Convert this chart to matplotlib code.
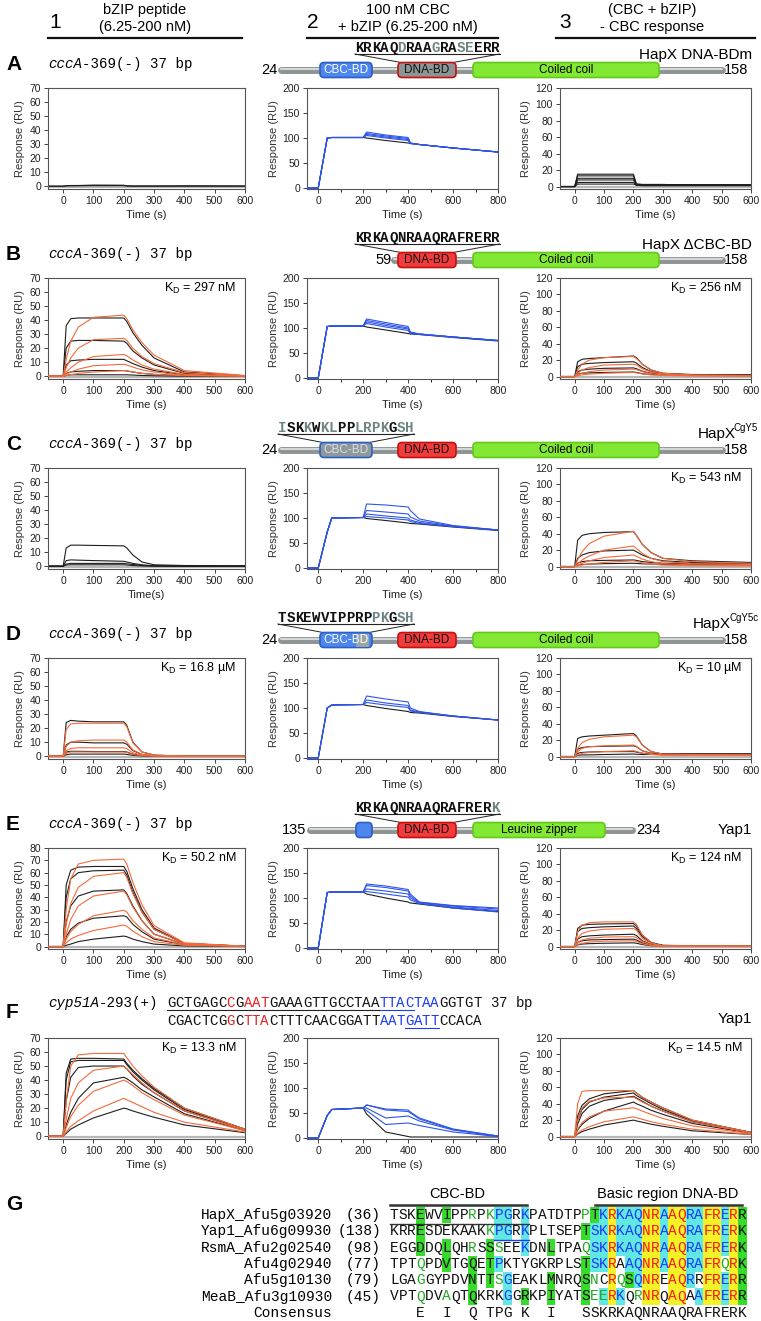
import matplotlib
matplotlib.use("Agg")
import matplotlib.pyplot as plt
from matplotlib.patches import FancyBboxPatch, Rectangle

plt.rcParams['font.family'] = ['Liberation Sans', 'DejaVu Sans']
plt.rcParams['mathtext.default'] = 'regular'

W, H = 761, 1321
MONO = 'Liberation Mono'

t_pep = [-50, 0, 10, 25, 50, 100, 200, 210, 230, 260, 300, 400, 600]
t_cbc = [-50, 0, 40, 60, 200, 215, 300, 400, 410, 450, 600, 800]

# ---- row A : HapX DNA-BDm ----
a1_black = [[0, 0, 0.4, 0.5, 0.5, 0.8, 0.7, 0.3, 0.2, 0.2, 0.2, 0.3, 0.2],
            [0, 0, 0.2, 0.3, 0.3, 0.4, 0.4, 0.1, 0, 0, 0, 0, 0]]
a1_orange = []
a2_blue = [[0, 0, 100, 101, 101, 112, 106, 101, 90, 87, 80, 72],
           [0, 0, 100, 101, 101, 109, 104, 99, 90, 87, 80, 72],
           [0, 0, 100, 101, 101, 107, 102, 97, 89, 87, 80, 72],
           [0, 0, 100, 101, 101, 105, 100, 95, 89, 87, 80, 72]]
a2_black = [0, 0, 100, 101, 101, 100, 95, 90, 89, 87, 80, 72]
a3_black = [[0, 0, 15, 15, 15, 15, 15, 3, 2.5, 2.5, 2.5, 2, 2],
            [0, 0, 13, 13, 13, 13, 13, 3, 2.5, 2.5, 2.5, 2, 2],
            [0, 0, 10, 10, 10, 10, 10, 2.5, 2, 2, 2, 2, 2],
            [0, 0, 8, 8, 8, 8, 8, 2, 2, 2, 2, 1.5, 1.5],
            [0, 0, 5, 5, 5, 5, 5, 2, 1.5, 1.5, 1.5, 1.5, 1.5],
            [0, 0, 3, 3, 3, 3, 3, 1.5, 1, 1, 1, 1, 1]]
a3_orange = []

# ---- row B : HapX dCBC-BD ----
b1_black = [[0, 0, 36, 41, 41.5, 41.5, 41.5, 39, 31, 22, 13, 3, 0.3],
            [0, 0, 20, 25, 25.5, 25.5, 25, 23.5, 18, 13, 8, 2, 0.2],
            [0, 0, 8, 11, 11.5, 12, 12, 11, 9, 6.5, 4, 1, 0],
            [0, 0, 2, 3, 3.5, 4, 4, 3.7, 3, 2, 1.3, 0.3, 0],
            [0, 0, 0.5, 1, 1, 1, 1, 1, 0.8, 0.5, 0.3, 0, 0]]
b1_orange = [[0, 0, 12, 25, 35, 42, 43.5, 41, 33, 24, 15, 4, 0.5],
             [0, 0, 6, 13, 20, 26, 27, 25.5, 20, 14, 9, 2.5, 0.3],
             [0, 0, 3, 6, 10, 14, 15.5, 14.5, 11.5, 8, 5, 1.3, 0.1],
             [0, 0, 1.5, 3, 5, 7.5, 8.5, 8, 6.5, 4.5, 3, 0.7, 0],
             [0, 0, 0.5, 1, 2, 3, 4, 3.8, 3, 2, 1.3, 0.3, 0]]
b2_blue = [[0, 0, 103, 104, 104, 118, 111, 103, 92, 88, 82, 75],
           [0, 0, 103, 104, 104, 115, 108, 100, 91, 88, 82, 75],
           [0, 0, 103, 104, 104, 112, 105, 98, 90, 88, 82, 75],
           [0, 0, 103, 104, 104, 109, 102, 95, 89, 87, 82, 75]]
b2_black = [0, 0, 103, 104, 104, 102, 96, 89, 88, 87, 81, 74]
b3_black = [[0, 0, 18, 21, 22, 23, 25, 23, 15, 8, 4, 2.5, 2],
            [0, 0, 12, 15, 16, 17, 18, 16.5, 11, 6, 3.5, 2, 2],
            [0, 0, 6, 8, 9, 10, 10.5, 9.5, 6.5, 4, 2.5, 2, 2],
            [0, 0, 3, 4, 4.5, 5, 5.5, 5, 3.5, 2.5, 2, 2, 2]]
b3_orange = [[0, 0, 8, 15, 20, 23, 24.5, 22, 15, 8, 4, 2, 1.5],
             [0, 0, 4, 8, 11, 14, 15, 14, 9.5, 5.5, 3, 1.5, 1],
             [0, 0, 2, 4, 6, 8, 9, 8.5, 6, 3.5, 2, 1, 0.8],
             [0, 0, 1, 2, 3, 4, 5, 4.5, 3.2, 2, 1.3, 0.8, 0.5]]

# ---- row C : HapX CgY5 ----
c1_black = [[0, 0, 13, 15, 15, 14.8, 14.5, 13, 8, 3, 1, 0.5, 0.3],
            [0, 0, 4, 4.5, 4.3, 4, 3.5, 3, 2, 1, 0.3, 0, 0],
            [0, 0, 1.5, 2, 2, 2, 2, 1.7, 1.2, 0.5, 0.2, 0, 0],
            [0, 0, 0.8, 1, 1, 1, 1, 0.8, 0.5, 0.2, 0, 0, 0]]
c1_orange = []
c2_blue = [[0, 0, 72, 100, 101, 128, 126, 122, 115, 98, 85, 76],
           [0, 0, 72, 100, 101, 115, 112, 108, 102, 94, 84, 76],
           [0, 0, 72, 100, 101, 108, 104, 100, 96, 91, 83, 76],
           [0, 0, 72, 100, 101, 103, 100, 96, 93, 89, 83, 76]]
c2_black = [0, 0, 72, 100, 101, 99, 95, 90, 89, 88, 82, 75]
c3_black = [[0, 0, 32, 38, 40, 41.5, 42.5, 38, 27, 17, 10, 7, 5],
            [0, 0, 10, 14, 17, 19, 20, 18, 14, 10, 7, 5, 4],
            [0, 0, 4, 6, 7, 7.5, 8, 7.5, 6, 5, 4, 3.5, 3],
            [0, 0, 1.5, 2.5, 3, 3.5, 4, 3.8, 3.3, 3, 2.5, 2.5, 2]]
c3_orange = [[0, 0, 8, 18, 28, 37, 43, 38, 27, 17, 10, 6, 4],
             [0, 0, 3, 8, 13, 20, 25, 22, 16, 10, 6, 3.5, 2.5],
             [0, 0, 1.5, 4, 7, 11, 14, 12.5, 9, 6, 3.5, 2, 1.5],
             [0, 0, 0.7, 2, 3, 5, 7, 6.3, 4.5, 3, 1.8, 1, 0.7]]

# ---- row D : HapX CgY5c ----
d1_black = [[0, 0, 24, 25.5, 25, 24.5, 24.5, 22, 10, 3, 0.8, 0, 0],
            [0, 0, 8, 10, 10, 9.5, 9.5, 8.5, 4, 1.2, 0.3, 0, 0],
            [0, 0, 3, 3.5, 3.5, 3.3, 3.3, 3, 1.5, 0.5, 0.1, 0, 0],
            [0, 0, 1, 1.5, 1.5, 1.5, 1.5, 1.3, 0.6, 0.2, 0, 0, 0]]
d1_orange = [[0, 0, 19, 23, 23.5, 23.5, 23.5, 21, 9.5, 3, 0.8, 0, 0],
             [0, 0, 7, 10, 11, 11.5, 11.5, 10, 4.5, 1.3, 0.3, 0, 0],
             [0, 0, 4, 5.5, 6, 6, 6, 5.4, 2.4, 0.7, 0.2, 0, 0],
             [0, 0, 2, 3, 3, 3, 3, 2.7, 1.2, 0.4, 0, 0, 0]]
d2_blue = [[0, 0, 100, 106, 107, 124, 118, 112, 100, 93, 84, 76],
           [0, 0, 100, 106, 107, 116, 110, 105, 96, 92, 84, 76],
           [0, 0, 100, 106, 107, 111, 106, 101, 94, 91, 84, 76]]
d2_black = [0, 0, 100, 106, 107, 105, 99, 93, 91, 90, 83, 76]
d3_black = [[0, 0, 22, 24, 25, 26, 28, 25, 14, 6, 3, 3, 3],
            [0, 0, 9, 11, 12, 12.5, 13, 12, 7, 4, 3, 3, 3],
            [0, 0, 4, 5, 5.5, 6, 6, 5.5, 4, 3, 3, 3, 3],
            [0, 0, 1.5, 2, 2, 2.5, 3, 2.8, 2.5, 2.5, 2.5, 2.5, 2.5]]
d3_orange = [[0, 0, 10, 17, 21, 24, 26, 24, 14, 6, 3, 2.5, 2],
             [0, 0, 6, 10, 12, 13, 14, 12.5, 7, 3.5, 2, 2, 2],
             [0, 0, 2, 4, 5, 6, 7, 6.3, 4, 2.5, 1.5, 1.5, 1.5]]

# ---- row E : Yap1 / cccA ----
e1_black = [[0, 0, 50, 62, 64.5, 65, 65, 61, 47, 30, 15, 2.5, 0.2],
            [0, 0, 40, 55, 60, 61.5, 62, 58, 44, 28, 14, 2.5, 0.2],
            [0, 0, 20, 33, 41, 45, 46, 43, 33, 21, 10, 2, 0.2],
            [0, 0, 8, 14, 19, 23, 25, 24, 18, 12, 6, 1.5, 0.1],
            [0, 0, 1, 2, 4, 6, 8.5, 8, 6, 4, 2, 0.5, 0]]
e1_orange = [[0, 0, 30, 55, 67, 70, 71, 67, 52, 34, 17, 3, 0.3],
             [0, 0, 18, 35, 48, 57, 60, 56, 43, 28, 14, 2.5, 0.2],
             [0, 0, 10, 22, 33, 41, 45, 42, 32, 21, 10, 2, 0.2],
             [0, 0, 6, 12, 18, 25, 29.5, 28, 21, 14, 7, 1.5, 0.1],
             [0, 0, 3, 6, 9, 13, 17.5, 16.5, 12.5, 8, 4, 1, 0]]
e2_blue = [[0, 0, 111, 112, 112, 128, 124, 117, 108, 92, 85, 80],
           [0, 0, 111, 112, 112, 125, 121, 114, 104, 91, 84, 78],
           [0, 0, 111, 112, 112, 118, 114, 108, 100, 90, 82, 75],
           [0, 0, 111, 112, 112, 113, 108, 102, 96, 89, 80, 72]]
e2_black = [0, 0, 111, 112, 112, 108, 100, 92, 90, 88, 80, 73]
e3_black = [[0, 0, 22, 26, 27, 27.5, 28, 25, 14, 5, 1.5, 1, 1],
            [0, 0, 18, 22, 23, 24, 25, 22, 12, 4, 1.3, 1, 1],
            [0, 0, 9, 12, 13, 14, 15, 13.5, 7, 2.5, 1, 1, 1],
            [0, 0, 5, 7, 8, 8.5, 9, 8, 4.5, 1.5, 1, 1, 1],
            [0, 0, 2, 3, 3.5, 4, 4.5, 4, 2.5, 1, 1, 1, 1]]
e3_orange = [[0, 0, 18, 26, 29, 30, 30, 27, 14, 4.5, 1, 0.5, 0.5],
             [0, 0, 10, 16, 19, 21, 22, 20, 10, 3.5, 1, 0.5, 0.5],
             [0, 0, 5, 8, 10, 11.5, 12, 11, 6, 2, 0.7, 0.5, 0.5],
             [0, 0, 2.5, 4, 5.5, 6.5, 7, 6.3, 3.5, 1.2, 0.5, 0.5, 0.5]]

# ---- row F : Yap1 / cyp51A ----
f1_black = [[0, 0, 45, 55, 55.5, 55.5, 55, 52, 47, 41, 34, 20, 5],
            [0, 0, 40, 53, 54, 54, 54, 51, 46, 40, 33, 19, 5],
            [0, 0, 25, 42, 49, 50, 50, 48, 43, 37, 31, 18, 4.5],
            [0, 0, 8, 17, 27, 38, 42, 41, 38, 33, 28, 16, 4],
            [0, 0, 2, 5, 8, 13, 20, 19.5, 18, 16, 13.5, 8, 2.5]]
f1_orange = [[0, 0, 25, 50, 58, 59, 59, 56, 50, 43, 35, 20, 5],
             [0, 0, 12, 27, 38, 47, 50, 48, 44, 38, 31, 18, 4.5],
             [0, 0, 6, 14, 22, 32, 40, 39, 36, 31, 26, 15, 4],
             [0, 0, 3, 7, 11, 18, 27, 26, 24, 21, 17, 10, 3]]
f2_blue = [[0, 0, 45, 57, 60, 66, 58, 56, 52, 40, 18, 4],
           [0, 0, 45, 57, 60, 66, 56, 53, 50, 38, 17, 4],
           [0, 0, 45, 57, 60, 60, 40, 44, 42, 34, 16, 3],
           [0, 0, 45, 57, 60, 55, 27, 30, 29, 25, 12, 3]]
f2_black = [0, 0, 45, 57, 60, 48, 12, 3, 2, 2, 2, 2]
f3_black = [[0, 0, 25, 38, 46, 52, 56, 53, 48, 42, 35, 20, 5],
            [0, 0, 20, 33, 42, 48, 53, 50, 46, 40, 33, 19, 5],
            [0, 0, 15, 28, 37, 44, 49, 47, 43, 37, 31, 18, 5],
            [0, 0, 8, 15, 22, 31, 42, 40, 37, 32, 27, 16, 4],
            [0, 0, 3, 6, 9, 14, 20, 19, 17.5, 15, 12.5, 7, 2.5]]
f3_orange = [[0, 0, 40, 55, 56, 56, 56, 53, 48, 42, 35, 20, 5],
             [0, 0, 20, 35, 43, 47, 48, 46, 42, 37, 31, 18, 4.5],
             [0, 0, 9, 17, 24, 31, 35, 34, 31, 27, 22, 13, 3.5],
             [0, 0, 4, 8, 12, 18, 24, 23, 21, 18, 15, 9, 2.5]]

kd_col1 = [None, "297 nM", None, "16.8 µM", "50.2 nM", "13.3 nM"]
kd_col3 = [None, "256 nM", "543 nM", "10 µM", "124 nM", "14.5 nM"]
ymax_col1 = [70, 70, 70, 70, 80, 70]
xlab_col1 = ["Time (s)", "Time (s)", "Time(s)", "Time (s)", "Time (s)", "Time (s)"]

col1_data = [(a1_black, a1_orange), (b1_black, b1_orange), (c1_black, c1_orange),
             (d1_black, d1_orange), (e1_black, e1_orange), (f1_black, f1_orange)]
col2_data = [(a2_blue, a2_black), (b2_blue, b2_black), (c2_blue, c2_black),
             (d2_blue, d2_black), (e2_blue, e2_black), (f2_blue, f2_black)]
col3_data = [(a3_black, a3_orange), (b3_black, b3_orange), (c3_black, c3_orange),
             (d3_black, d3_orange), (e3_black, e3_orange), (f3_black, f3_orange)]

# alignment (panel G)
aln_names = ["HapX_Afu5g03920", "Yap1_Afu6g09930", "RsmA_Afu2g02540",
             "Afu4g02940", "Afu5g10130", "MeaB_Afu3g10930"]
aln_start = ["(36)", "(138)", "(98)", "(77)", "(79)", "(45)"]
aln_seqs = ["TSKEWVIPPRPKPGRKPATDTPPTKRKAQNRAAQRAFRERR",
            "KRRESDEKAAKKPGRKPLTSEPTSKRKAQNRAAQRAFRERK",
            "EGGDDQLQHRSSSEEKDNLTPAQSKRKAQNRAAQRAFRERK",
            "TPTQPDVTGQETPKTYGKRPLSTSKRAAQNRAAQRAFRQRK",
            "LGAGGYPDVNTTSGEAKLMNRQSNCRQSQNREAQRRFRERR",
            "VPTQDVAQTQKRKGGRKPIYATSEERKQRNRQAQAAFRERR"]
aln_codes = ["...g..g..G.Gcc.c......Gg" + "cycccyycyyccyycyg",
             "...g.......Gcc.c......gc" + "cycccyycyyccyycyg",
             "...g..g..G.gG..c..g...Gc" + "cycccyycyyccyycyg",
             "...G..g..g.gc.........gc" + "cy.ccyycyyccyyGyg",
             "...G.....g.gGc....g...gG" + ".yGgcyy.yyc.yycyg",
             "...G..G..g...c.g..g...gG" + "Cyc.Gyy.yy.cyycyg"]
aln_consensus = "   E  I  Q TPG K  I   SSKRKAQNRAAQRAFRERK"

# ---- figure ----
fig = plt.figure(figsize=(W / 100, H / 100), dpi=100)
ov = fig.add_axes([0, 0, 1, 1])
ov.set_xlim(0, W)
ov.set_ylim(H, 0)
ov.axis('off')

row_top = [88, 278, 468, 658, 848, 1038]
col_x = [(48, 245), (307, 498), (560, 751)]
AX_H = 101

BLACK = '#1e1e1e'
ORANGE = '#f36a3b'
BLUE = '#2f55e8'


def px_axes(x0, x1, y0, y1):
    return fig.add_axes([x0 / W, 1 - y1 / H, (x1 - x0) / W, (y1 - y0) / H])


def style(ax, xmax, ymax, ystep, xstep, xlabel):
    ax.set_xlim(-50, xmax)
    ax.set_xticks(range(0, xmax + 1, xstep))
    ax.set_yticks(range(0, ymax + 1, ystep))
    if xmax == 800:
        ax.set_xticks(range(100, 800, 200), minor=True)
    ax.tick_params(labelsize=7.5, length=3, width=0.6, pad=2, colors='#222')
    ax.tick_params(which='minor', length=2, width=0.6)
    for s in ax.spines.values():
        s.set_color('#555')
        s.set_linewidth(0.8)
    ax.set_ylabel("Response (RU)", fontsize=8, labelpad=3, color='#333')
    ax.set_xlabel(xlabel, fontsize=8, labelpad=3, color='#222')


for r in range(6):
    y0 = row_top[r]
    y1 = y0 + AX_H
    # column 1
    ax = px_axes(*col_x[0], y0, y1)
    blk, org = col1_data[r]
    ax.axhline(-0.6, color='#b8b8b8', lw=1.6, zorder=1)
    for c in blk:
        ax.plot(t_pep, c, color=BLACK, lw=0.8, zorder=2)
    for c in org:
        ax.plot(t_pep, c, color=ORANGE, lw=0.8, zorder=3)
    ax.set_ylim(-2, ymax_col1[r])
    style(ax, 600, ymax_col1[r], 10, 100, xlab_col1[r])
    if kd_col1[r]:
        ax.text(0.955, 0.9, "K$_D$ = " + kd_col1[r], transform=ax.transAxes,
                ha='right', va='center', fontsize=9)
    # column 2
    ax = px_axes(*col_x[1], y0, y1)
    blue, blk2 = col2_data[r]
    ax.plot(t_cbc, blk2, color=BLACK, lw=0.8, zorder=2)
    for c in blue:
        ax.plot(t_cbc, c, color=BLUE, lw=0.8, zorder=3)
    ax.set_ylim(-2, 200)
    style(ax, 800, 200, 50, 200, "Time (s)")
    # column 3
    ax = px_axes(*col_x[2], y0, y1)
    blk, org = col3_data[r]
    ax.axhline(-1, color='#b8b8b8', lw=1.6, zorder=1)
    for c in blk:
        ax.plot(t_pep, c, color=BLACK, lw=0.8, zorder=2)
    for c in org:
        ax.plot(t_pep, c, color=ORANGE, lw=0.8, zorder=3)
    ax.set_ylim(-3, 120)
    style(ax, 600, 120, 20, 100, "Time (s)")
    if kd_col3[r]:
        ax.text(0.955, 0.9, "K$_D$ = " + kd_col3[r], transform=ax.transAxes,
                ha='right', va='center', fontsize=9)

# ---- column headers ----
hdr = [(55, 145, 48, 242, "1", "bZIP peptide", "(6.25-200 nM)"),
       (313, 408, 307, 498, "2", "100 nM CBC", "+ bZIP (6.25-200 nM)"),
       (565, 652, 556, 755, "3", "(CBC + bZIP)", "- CBC response")]
for xn, xc, l0, l1, num, t1, t2 in hdr:
    ov.text(xn, 22, num, fontsize=15, ha='center', va='center')
    ov.text(xc, 10, t1, fontsize=10.5, ha='center', va='center')
    ov.text(xc, 27, t2, fontsize=10.5, ha='center', va='center')
    ov.plot([l0, l1], [38, 38], color='#111', lw=1.6)

# ---- panel letters and DNA labels ----
STEP = 8.5
MSIZE = STEP / 0.6 * 0.72
for r, letter in enumerate("ABCDE"):
    yb = row_top[r] - 18
    ov.text(6, yb - 6, letter, fontsize=15, weight='bold', va='center')
    ov.text(48, yb - 6, "cccA", fontsize=MSIZE, family=MONO, style='italic', va='center')
    ov.text(48 + 4 * STEP, yb - 6, "-369(-) 37 bp", fontsize=MSIZE, family=MONO, va='center')
ov.text(6, 1013, "F", fontsize=15, weight='bold', va='center')
ov.text(6, 1205, "G", fontsize=15, weight='bold', va='center')


def mono_chars(x0, y, s, colors, step, size, weight='normal'):
    for i, ch in enumerate(s):
        if ch != ' ':
            ov.text(x0 + step * (i + 0.5), y, ch, color=colors[i], fontsize=size,
                    family=MONO, weight=weight, ha='center', va='center')


# ---- domain diagrams ----
def box(x0, x1, yc, face, edge, label=None, tcol='k'):
    p = FancyBboxPatch((x0, yc - 7.5), x1 - x0, 15, boxstyle="round,pad=0,rounding_size=4",
                       fc=face, ec=edge, lw=1.2, zorder=3)
    ov.add_patch(p)
    if label:
        ov.text((x0 + x1) / 2, yc, label, fontsize=8.5, color=tcol, ha='center', va='center', zorder=4)


def bar(x0, x1, yc):
    ov.plot([x0, x1], [yc, yc], color='#8e9494', lw=5, solid_capstyle='round', zorder=2)
    ov.plot([x0, x1], [yc - 1, yc - 1], color='#d4d8d8', lw=1.5, solid_capstyle='round', zorder=2)


def peptide(x0, yc, seq, cols, bx0, bx1):
    ys = yc - 22
    tone = {'k': '#111', 'g': '#6f8585'}
    mono_chars(x0, ys, seq, [tone[c] for c in cols], STEP, MSIZE, weight='bold')
    x1 = x0 + STEP * len(seq)
    ov.plot([x0, x1], [ys + 6, ys + 6], color='#222', lw=0.8)
    ov.plot([x0, bx0 + 3], [ys + 6, yc - 7.5], color='#222', lw=0.7)
    ov.plot([x1, bx1 - 3], [ys + 6, yc - 7.5], color='#222', lw=0.7)


def protein_name(yc, base, sup=None):
    if sup is None:
        ov.text(752, yc, base, fontsize=11, ha='right', va='center')
    else:
        xs = 752 - 4.4 * len(sup)
        ov.text(xs + 1, yc, base, fontsize=11, ha='right', va='center')
        ov.text(xs - 0.5, yc - 6, sup, fontsize=7, ha='left', va='center')


CBC_F, CBC_E = '#4d86ec', '#2d5fc4'
DNA_F, DNA_E = '#f23c3c', '#c41010'
CC_F, CC_E = '#82e834', '#64c81a'

# A
yc = row_top[0] - 18
bar(281, 722, yc)
ov.text(277, yc, "24", fontsize=10.5, ha='right', va='center')
ov.text(724, yc, "158", fontsize=10.5, ha='left', va='center')
box(320, 372, yc, CBC_F, CBC_E, "CBC-BD", 'white')
box(398, 456, yc, '#8e9494', DNA_E, "DNA-BD", '#111')
box(473, 659, yc, CC_F, CC_E, "Coiled coil")
peptide(355, yc, "KRKAQDRAAGRASEERR", "kkkkkgkkkgkkggkkk", 398, 456)
protein_name(yc - 15, "HapX DNA-BDm")

# B
yc = row_top[1] - 18
bar(394, 722, yc)
ov.text(392, yc, "59", fontsize=10.5, ha='right', va='center')
ov.text(724, yc, "158", fontsize=10.5, ha='left', va='center')
box(398, 456, yc, DNA_F, DNA_E, "DNA-BD", '#111')
box(473, 659, yc, CC_F, CC_E, "Coiled coil")
peptide(355, yc, "KRKAQNRAAQRAFRERR", "k" * 17, 398, 456)
protein_name(yc - 15, "HapX ΔCBC-BD")

# C
yc = row_top[2] - 18
bar(281, 722, yc)
ov.text(277, yc, "24", fontsize=10.5, ha='right', va='center')
ov.text(724, yc, "158", fontsize=10.5, ha='left', va='center')
box(320, 372, yc, '#8e9a9a', CBC_E, "CBC-BD", '#dde')
box(398, 456, yc, DNA_F, DNA_E, "DNA-BD", '#111')
box(473, 659, yc, CC_F, CC_E, "Coiled coil")
peptide(278, yc, "ISKKWKLPPLRPKGSH", "gkkgkggkkggggkgg", 320, 372)
protein_name(yc - 16, "HapX", "CgY5")

# D
yc = row_top[3] - 18
bar(281, 722, yc)
ov.text(277, yc, "24", fontsize=10.5, ha='right', va='center')
ov.text(724, yc, "158", fontsize=10.5, ha='left', va='center')
box(320, 372, yc, CBC_F, CBC_E)
ov.add_patch(Rectangle((356, yc - 6.5), 13, 13, fc='#9aa6a6', ec='none', zorder=3.5))
ov.text(346, yc, "CBC-BD", fontsize=8.5, color='white', ha='center', va='center', zorder=4)
box(398, 456, yc, DNA_F, DNA_E, "DNA-BD", '#111')
box(473, 659, yc, CC_F, CC_E, "Coiled coil")
peptide(278, yc, "TSKEWVIPPRPPKGSH", "kkkkkkkkkkkggkgg", 320, 372)
protein_name(yc - 16, "HapX", "CgY5c")

# E
yc = row_top[4] - 18
bar(310, 632, yc)
ov.text(306, yc, "135", fontsize=10.5, ha='right', va='center')
ov.text(636, yc, "234", fontsize=10.5, ha='left', va='center')
box(356, 372, yc, CBC_F, CBC_E)
box(398, 456, yc, DNA_F, DNA_E, "DNA-BD", '#111')
box(473, 605, yc, CC_F, CC_E, "Leucine zipper")
peptide(355, yc, "KRKAQNRAAQRAFRERK", "k" * 16 + "g", 398, 456)
protein_name(yc, "Yap1")

# F : cyp51A probe
ov.text(48, 1003, "cyp51A", fontsize=MSIZE, family=MONO, style='italic', va='center')
ov.text(48 + 6 * STEP, 1003, "-293(+)", fontsize=MSIZE, family=MONO, va='center')
strand1 = "GCTGAGCCGAATGAAAGTTGCCTAATTACTAAGGTGT 37 bp"
strand2 = "CGACTCGGCTTACTTTCAACGGATTAATGATTCCACA"
red_pos = [7, 9, 10, 11]
blue_pos = list(range(25, 32))
sx = 48 + 14 * STEP


def strand_colors(s):
    out = []
    for i in range(len(s)):
        out.append('#e82020' if i in red_pos else ('#1c3cf0' if i in blue_pos else '#111'))
    return out


mono_chars(sx, 1003, strand1, strand_colors(strand1), STEP, MSIZE)
mono_chars(sx, 1021, strand2, strand_colors(strand2), STEP, MSIZE)
ov.plot([sx, sx + 25 * STEP], [1010, 1010], color='#222', lw=0.8)
ov.plot([sx + 25 * STEP, sx + 29 * STEP], [1010, 1010], color='#1c3cf0', lw=0.8)
ov.plot([sx + 28 * STEP, sx + 32 * STEP], [1028, 1028], color='#1c3cf0', lw=0.8)
protein_name(1019, "Yap1")

# ---- panel G alignment ----
ASTEP = 8.7
ASIZE = ASTEP / 0.6 * 0.72
ax0 = 390
row_y = [1215 + 16.3 * i for i in range(7)]
bg = {'g': '#36dc2a', 'c': '#62e8e2', 'y': '#f2f226', 'C': '#62e8e2'}
fg = {'.': '#111', 'g': '#111', 'G': '#22a822', 'c': '#1a3cf5', 'y': '#f51a1a', 'C': '#22a822'}
for r, (seq, code) in enumerate(zip(aln_seqs, aln_codes)):
    y = row_y[r]
    for i, c in enumerate(code):
        if c in bg:
            ov.add_patch(Rectangle((ax0 + i * ASTEP, y - 8.2), ASTEP, 16.4, fc=bg[c], ec='none', zorder=1))
    mono_chars(ax0, y, seq, [fg[c] for c in code], ASTEP, ASIZE)
    ov.text(332, y, aln_names[r], fontsize=ASIZE, family=MONO, ha='right', va='center')
    ov.text(381, y, aln_start[r], fontsize=ASIZE, family=MONO, ha='right', va='center')
mono_chars(ax0, row_y[6], aln_consensus, ['#111'] * len(aln_consensus), ASTEP, ASIZE)
ov.text(332, row_y[6], "Consensus", fontsize=ASIZE, family=MONO, ha='right', va='center')
ov.plot([ax0, ax0 + 16 * ASTEP], [1223.5, 1223.5], color='#333', lw=1)
ov.plot([ax0 + 12 * ASTEP, ax0 + 16 * ASTEP], [1239.5, 1239.5], color='#1a3cf5', lw=1)
ov.plot([ax0, 527], [1205, 1205], color='#333', lw=1.8)
ov.plot([595, 742], [1205, 1205], color='#333', lw=1.8)
ov.text(457, 1194, "CBC-BD", fontsize=10.5, ha='center', va='center')
ov.text(668, 1194, "Basic region DNA-BD", fontsize=10.5, ha='center', va='center')

fig.savefig("out.png", dpi=100)
